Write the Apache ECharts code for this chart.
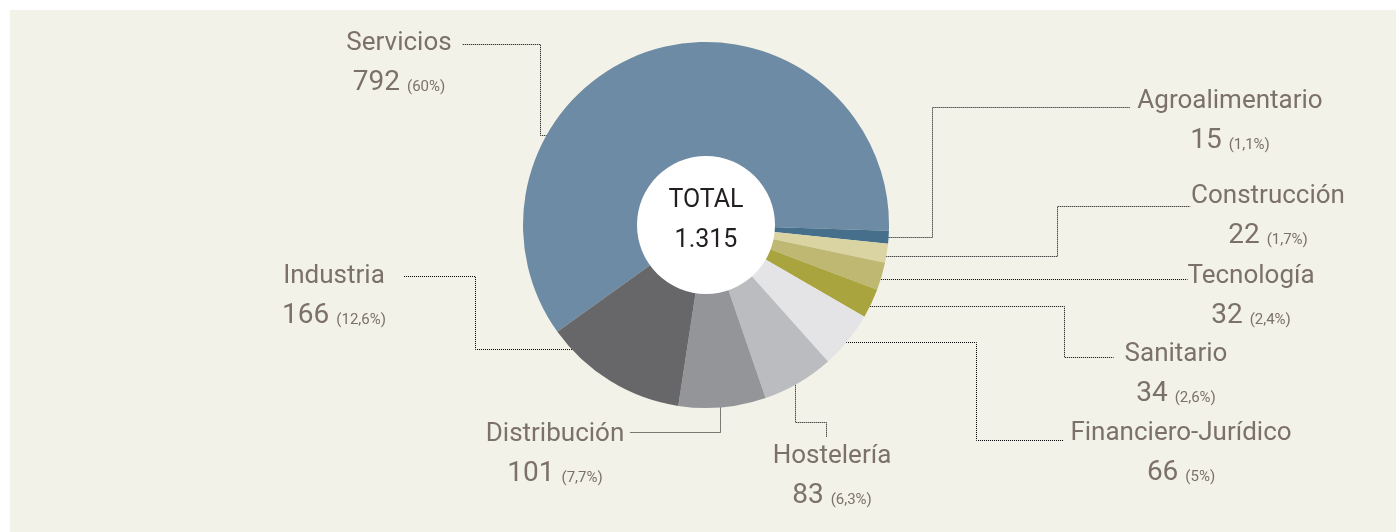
<!DOCTYPE html>
<html>
<head>
<meta charset="utf-8">
<script src="https://cdn.jsdelivr.net/npm/echarts@6/dist/echarts.min.js"></script>
<style>
    html, body { margin: 0; padding: 0; background: #fff; }
    #sectores { position: absolute; left: 10px; top: 10px; width: 1386px; height: 522px; }
</style>
</head>
<body>
<div id="sectores"></div>
<script>
// datos del gráfico
var sectores = ['Servicios', 'Agroalimentario', 'Construcción', 'Tecnología', 'Sanitario',
                'Financiero-Jurídico', 'Hostelería', 'Distribución', 'Industria'];
var empresas = [792, 15, 22, 32, 34, 66, 83, 101, 166];
var porcentajes = ['60%', '1,1%', '1,7%', '2,4%', '2,6%', '5%', '6,3%', '7,7%', '12,6%'];
var totalTexto = '1.315';

var colores = ['#6d8ba4', '#466f8c', '#d9d4a2', '#bfb872', '#aaa43e',
               '#e4e4e6', '#bbbcc0', '#949598', '#676769'];

var centro = [696, 215];
var radio = 183;

// posición de cada etiqueta (centro x, arriba y) y recorrido de la línea guía
// ang: punto de salida en el borde (grados, sentido horario desde el este)
// ruta: primer tramo 'h' o 'v', luego coordenadas alternas
var etiquetas = [
    {x: 389,  y: 14,  ang: 209.7, ruta: ['h', 530, 34, 452]},
    {x: 1220, y: 72,  ang: 3.8,   ruta: ['h', 922, 97, 1120]},
    {x: 1258, y: 167, ang: 9.9,   ruta: ['h', 1047, 196, 1180]},
    {x: 1241, y: 247, ang: 17.2,  ruta: ['h', 1177]},
    {x: 1166, y: 325, ang: 26.6,  ruta: ['h', 1054, 347, 1103]},
    {x: 1171, y: 404, ang: 40.3,  ruta: ['h', 966, 430, 1053]},
    {x: 822,  y: 427, ang: 60.6,  ruta: ['v', 412, 816, 427]},
    {x: 545,  y: 405, ang: 85.6,  ruta: ['v', 422, 619]},
    {x: 324,  y: 247, ang: 136.8, ruta: ['h', 465, 266, 393]}
];

var colorTexto = '#7b716a';
var fuente = 'Roboto';

function tarta() {
    var chart = echarts.init(document.getElementById('sectores'));

    var datos = [];
    for (var i = 0; i < sectores.length; i++) {
        datos.push({value: empresas[i], name: sectores[i], itemStyle: {color: colores[i]}});
    }

    option = {
        backgroundColor: '#f3f2e8',
        animation: false,
        series: [
            {
                type: 'pie',
                center: centro,
                radius: [0, radio],
                startAngle: 215.7,
                clockwise: true,
                avoidLabelOverlap: false,
                minShowLabelAngle: 0,
                emphasis: {disabled: true},
                itemStyle: {borderWidth: 0},
                label: {
                    show: true,
                    position: 'outer',
                    fontFamily: fuente,
                    color: colorTexto,
                    formatter: function (p) {
                        return '{n|' + p.name + '}\n{v|' + p.value + '}{p|(' + porcentajes[p.dataIndex] + ')}';
                    },
                    rich: {
                        n: {fontFamily: fuente, fontSize: 26, lineHeight: 39, color: colorTexto},
                        v: {fontFamily: fuente, fontSize: 28, lineHeight: 39, color: colorTexto},
                        p: {fontFamily: fuente, fontSize: 15, lineHeight: 39, color: colorTexto, padding: [9, 0, 0, 7]}
                    }
                },
                labelLine: {
                    show: true,
                    smooth: false,
                    lineStyle: {color: '#000000', width: 1, type: [1, 1]}
                },
                labelLayout: function (p) {
                    var e = etiquetas[p.dataIndex];
                    var a = e.ang * Math.PI / 180;
                    var cx = centro[0] + (radio - 2) * Math.cos(a);
                    var cy = centro[1] + (radio - 2) * Math.sin(a);
                    var dir = e.ruta[0];
                    // medio píxel para que el punteado salga nítido
                    if (dir === 'h') { cy = Math.round(cy) + 0.5; } else { cx = Math.round(cx) + 0.5; }
                    var pts = [[cx, cy]];
                    for (var k = 1; k < e.ruta.length; k++) {
                        if (dir === 'h') { cx = e.ruta[k] + 0.5; } else { cy = e.ruta[k] + 0.5; }
                        pts.push([cx, cy]);
                        dir = dir === 'h' ? 'v' : 'h';
                    }
                    return {x: e.x, y: e.y, align: 'center', verticalAlign: 'top', labelLinePoints: pts};
                },
                data: datos
            },
            {
                // círculo blanco central con el total
                type: 'pie',
                center: centro,
                radius: [0, 69],
                silent: true,
                emphasis: {disabled: true},
                label: {
                    show: true,
                    position: 'center',
                    formatter: 'TOTAL\n' + totalTexto,
                    fontFamily: fuente,
                    fontSize: 25,
                    lineHeight: 40,
                    offset: [0, -4],
                    color: '#231f20'
                },
                labelLine: {show: false},
                data: [{value: 1, name: 'TOTAL', itemStyle: {color: '#ffffff'}}]
            }
        ]
    };
    chart.setOption(option);
}

tarta();
</script>
</body>
</html>
